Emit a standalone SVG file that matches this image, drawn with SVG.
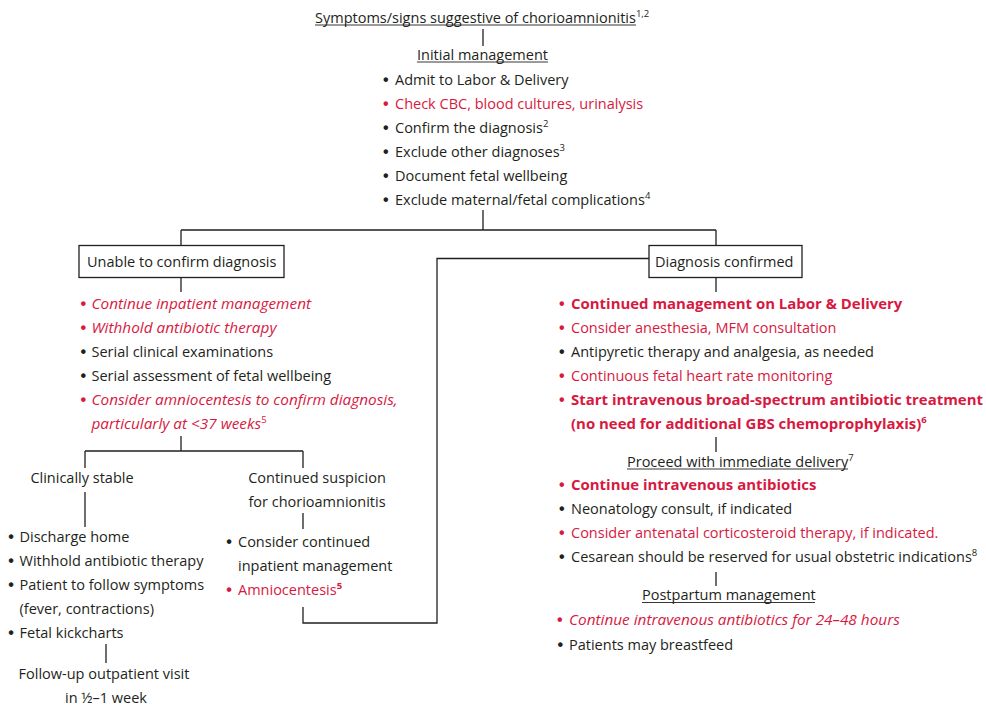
<svg xmlns="http://www.w3.org/2000/svg" width="986" height="708" viewBox="0 0 986 708">
<style>
text{font-family:"Open Sans","Noto Sans","Liberation Sans",sans-serif;font-size:14.5px;fill:#231f20}
.r{fill:#d7193f}
.b{font-weight:bold;font-size:14.95px}
.i{font-style:italic;font-size:15.35px}
.sup{font-size:9.5px;font-style:normal}
.bl{font-family:"Liberation Sans","Arial",sans-serif;font-size:16px;font-style:normal;font-weight:bold}
.ln{stroke:#231f20;stroke-width:1.3;fill:none}
.ul{stroke:#231f20;stroke-width:0.9}
.box{fill:#fff;stroke:#231f20;stroke-width:1.3}
</style>
<rect width="986" height="708" fill="#fff"/>
<g id="connectors">
<path class="ln" d="M483 29V46"/>
<path class="ln" d="M483 210V230M181 230H716M181 230V245.5M716 230V245.5"/>
<path class="ln" d="M181 277.5V292"/>
<path class="ln" d="M716 277.5V292"/>
<path class="ln" d="M181 436V451M85 451H303M85 451V468M303 451V468"/>
<path class="ln" d="M85 492V527"/>
<path class="ln" d="M303 513V529"/>
<path class="ln" d="M106 644V663"/>
<path class="ln" d="M303 607V623H437V258.5H649"/>
<path class="ln" d="M716 437V452"/>
<path class="ln" d="M716 572V586"/>
</g>
<g id="title">
<text x="315" y="22.5">Symptoms/signs suggestive of chorioamnionitis<tspan class="sup" dy="-6">1,2</tspan></text>
<line class="ul" x1="315" y1="25" x2="636" y2="25"/>
</g>
<g id="initial">
<text x="417" y="59.5">Initial management</text>
<line class="ul" x1="417" y1="62" x2="548" y2="62"/>
<text y="85"><tspan class="bl" x="383">•</tspan><tspan x="395">Admit to Labor &amp; Delivery</tspan></text>
<text y="109" class="r"><tspan class="bl" x="383">•</tspan><tspan x="395">Check CBC, blood cultures, urinalysis</tspan></text>
<text y="133"><tspan class="bl" x="383">•</tspan><tspan x="395">Confirm the diagnosis</tspan><tspan class="sup" dy="-6">2</tspan></text>
<text y="157"><tspan class="bl" x="383">•</tspan><tspan x="395">Exclude other diagnoses</tspan><tspan class="sup" dy="-6">3</tspan></text>
<text y="181"><tspan class="bl" x="383">•</tspan><tspan x="395">Document fetal wellbeing</tspan></text>
<text y="205"><tspan class="bl" x="383">•</tspan><tspan x="395">Exclude maternal/fetal complications</tspan><tspan class="sup" dy="-6">4</tspan></text>
</g>
<g id="unable">
<rect class="box" x="79" y="245.5" width="205" height="32"/>
<text x="87" y="266.5">Unable to confirm diagnosis</text>
</g>
<g id="unable-list">
<text y="308.5" class="r i"><tspan class="bl" x="80.5">•</tspan><tspan x="91.5">Continue inpatient management</tspan></text>
<text y="332.5" class="r i"><tspan class="bl" x="80.5">•</tspan><tspan x="91.5">Withhold antibiotic therapy</tspan></text>
<text y="356.5"><tspan class="bl" x="80.5">•</tspan><tspan x="91.5">Serial clinical examinations</tspan></text>
<text y="380.5"><tspan class="bl" x="80.5">•</tspan><tspan x="91.5">Serial assessment of fetal wellbeing</tspan></text>
<text y="404.5" class="r i"><tspan class="bl" x="80.5">•</tspan><tspan x="91.5">Consider amniocentesis to confirm diagnosis,</tspan></text>
<text y="428.5" class="r i" x="91.5">particularly at &lt;37 weeks<tspan class="sup" dy="-6">5</tspan></text>
</g>
<g id="stable">
<text x="82" y="483" text-anchor="middle">Clinically stable</text>
</g>
<g id="stable-list">
<text y="542"><tspan class="bl" x="8.3">•</tspan><tspan x="19.5">Discharge home</tspan></text>
<text y="566"><tspan class="bl" x="8.3">•</tspan><tspan x="19.5">Withhold antibiotic therapy</tspan></text>
<text y="590"><tspan class="bl" x="8.3">•</tspan><tspan x="19.5">Patient to follow symptoms</tspan></text>
<text y="614" x="19.5">(fever, contractions)</text>
<text y="638"><tspan class="bl" x="8.3">•</tspan><tspan x="19.5">Fetal kickcharts</tspan></text>
</g>
<g id="followup">
<text x="104" y="679" text-anchor="middle">Follow-up outpatient visit</text>
<text x="106" y="703" text-anchor="middle">in ½–1 week</text>
</g>
<g id="suspicion">
<text x="317" y="483" text-anchor="middle">Continued suspicion</text>
<text x="317" y="507" text-anchor="middle">for chorioamnionitis</text>
</g>
<g id="suspicion-list">
<text y="547"><tspan class="bl" x="226.3">•</tspan><tspan x="238">Consider continued</tspan></text>
<text y="571" x="238">inpatient management</text>
<text y="595" class="r"><tspan class="bl" x="226.3">•</tspan><tspan x="238">Amniocentesis</tspan><tspan class="sup" font-weight="bold" dy="-6">5</tspan></text>
</g>
<g id="confirmed">
<rect class="box" x="649" y="245.5" width="153" height="32"/>
<text x="655" y="266.5">Diagnosis confirmed</text>
</g>
<g id="confirmed-list">
<text y="309" class="r"><tspan class="bl" x="559">•</tspan><tspan x="571" class="b">Continued management on Labor &amp; Delivery</tspan></text>
<text y="333" class="r"><tspan class="bl" x="559">•</tspan><tspan x="571">Consider anesthesia, MFM consultation</tspan></text>
<text y="357"><tspan class="bl" x="559">•</tspan><tspan x="571">Antipyretic therapy and analgesia, as needed</tspan></text>
<text y="381" class="r"><tspan class="bl" x="559">•</tspan><tspan x="571">Continuous fetal heart rate monitoring</tspan></text>
<text y="405" class="r b"><tspan class="bl" x="559">•</tspan><tspan x="571">Start intravenous broad-spectrum antibiotic treatment</tspan></text>
<text y="429" class="r b" x="571">(no need for additional GBS chemoprophylaxis)<tspan class="sup" dy="-6">6</tspan></text>
</g>
<g id="delivery">
<text x="627" y="466.5">Proceed with immediate delivery<tspan class="sup" dy="-6">7</tspan></text>
<line class="ul" x1="627" y1="469" x2="848" y2="469"/>
</g>
<g id="delivery-list">
<text y="489.5" class="r b"><tspan class="bl" x="559">•</tspan><tspan x="571">Continue intravenous antibiotics</tspan></text>
<text y="513.5"><tspan class="bl" x="559">•</tspan><tspan x="571">Neonatology consult, if indicated</tspan></text>
<text y="537.5" class="r"><tspan class="bl" x="559">•</tspan><tspan x="571">Consider antenatal corticosteroid therapy, if indicated.</tspan></text>
<text y="561.5"><tspan class="bl" x="559">•</tspan><tspan x="571">Cesarean should be reserved for usual obstetric indications</tspan><tspan class="sup" dy="-6">8</tspan></text>
</g>
<g id="postpartum">
<text x="642" y="600">Postpartum management</text>
<line class="ul" x1="642" y1="602.5" x2="815" y2="602.5"/>
</g>
<g id="postpartum-list">
<text y="625" class="r i"><tspan class="bl" x="557">•</tspan><tspan x="569">Continue intravenous antibiotics for 24–48 hours</tspan></text>
<text y="649.5"><tspan class="bl" x="557.5">•</tspan><tspan x="569">Patients may breastfeed</tspan></text>
</g>
</svg>
